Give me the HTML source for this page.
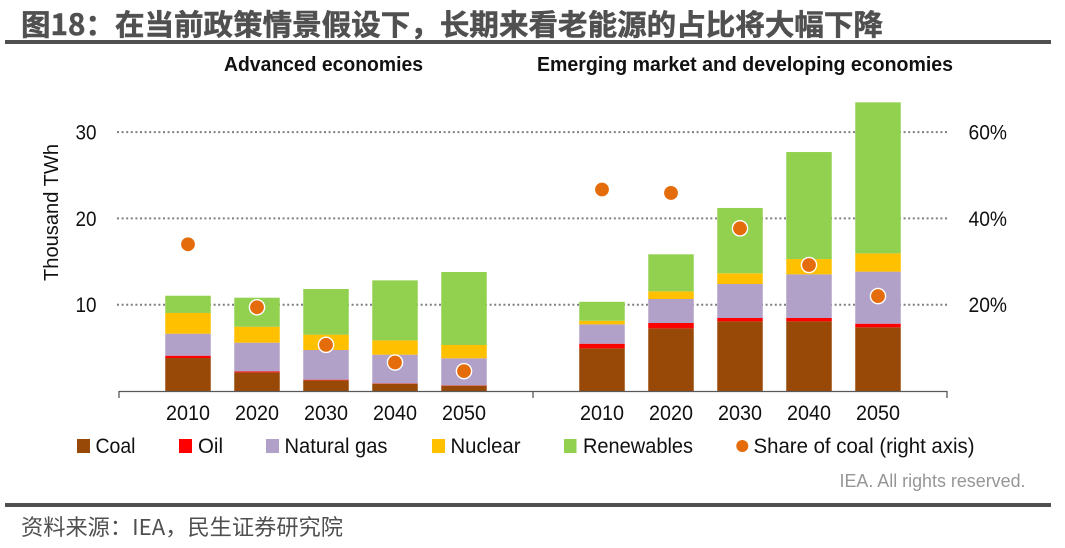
<!DOCTYPE html>
<html lang="zh">
<head>
<meta charset="utf-8">
<title>图18</title>
<style>
html,body{margin:0;padding:0;background:#fff;width:1065px;height:548px;overflow:hidden}
svg{display:block}
text{font-family:"Liberation Sans","Noto Sans CJK SC",sans-serif;fill:#111}
.cjk{font-family:"Noto Sans CJK SC","Liberation Sans",sans-serif}
</style>
</head>
<body>
<svg id="chart" xmlns="http://www.w3.org/2000/svg" width="1065" height="548" viewBox="0 0 1065 548">
  <rect width="1065" height="548" fill="#fff"/>
  <text class="cjk" x="21" y="35" font-size="29" font-weight="700" style="fill:#505050;stroke:#505050;stroke-width:0.5" textLength="862" lengthAdjust="spacingAndGlyphs">图18：在当前政策情景假设下，长期来看老能源的占比将大幅下降</text>
  <rect x="5" y="40" width="1046" height="4" fill="#505050"/>
  <text x="224" y="71" font-size="20" font-weight="700" textLength="199" lengthAdjust="spacingAndGlyphs">Advanced economies</text>
  <text x="537" y="71" font-size="20" font-weight="700" textLength="416" lengthAdjust="spacingAndGlyphs">Emerging market and developing economies</text>
  <text transform="translate(58,281) rotate(-90)" font-size="20" textLength="137" lengthAdjust="spacingAndGlyphs">Thousand TWh</text>
  <g id="grid"></g>
  <g id="bars"></g>
  <g id="axis"></g>
  <g id="points"></g>
  <g>
    <rect x="77" y="439" width="13" height="14" fill="#984807"/>
    <text x="95.5" y="453" font-size="21" textLength="40" lengthAdjust="spacingAndGlyphs">Coal</text>
    <rect x="179" y="439" width="13" height="14" fill="#ff0000"/>
    <text x="198" y="453" font-size="21" textLength="25" lengthAdjust="spacingAndGlyphs">Oil</text>
    <rect x="266" y="439" width="13" height="14" fill="#b1a0c7"/>
    <text x="284.5" y="453" font-size="21" textLength="103" lengthAdjust="spacingAndGlyphs">Natural gas</text>
    <rect x="432" y="439" width="13" height="14" fill="#ffc000"/>
    <text x="450.5" y="453" font-size="21" textLength="70" lengthAdjust="spacingAndGlyphs">Nuclear</text>
    <rect x="564" y="439" width="12.5" height="14" fill="#92d050"/>
    <text x="583" y="453" font-size="21" textLength="110" lengthAdjust="spacingAndGlyphs">Renewables</text>
    <circle cx="742.3" cy="446" r="6" fill="#e46c0a"/>
    <text x="753.5" y="453" font-size="21" textLength="221" lengthAdjust="spacingAndGlyphs">Share of coal (right axis)</text>
  </g>
  <text x="839.5" y="487" font-size="18" style="fill:#969696" textLength="186" lengthAdjust="spacingAndGlyphs">IEA. All rights reserved.</text>
  <rect x="5" y="503" width="1046" height="4" fill="#505050"/>
  <text class="cjk" x="21" y="535" font-size="22" style="fill:#505050" textLength="322" lengthAdjust="spacingAndGlyphs">资料来源：IEA，民生证券研究院</text>
</svg>
<script>
const years = ['2010', '2020', '2030', '2040', '2050'];
const leftTicks = [10, 20, 30];
const rightTickLabels = ['20%', '40%', '60%'];
const advCoal = [3.82, 2.16, 1.24, 0.85, 0.62];
const advOil = [0.27, 0.12, 0.07, 0.04, 0.04];
const advGas = [2.55, 3.32, 3.44, 3.32, 3.13];
const advNuclear = [2.40, 1.85, 1.78, 1.66, 1.54];
const advRenewables = [2.00, 3.36, 5.29, 6.95, 8.46];
const advShare = [34.0, 19.4, 10.7, 6.6, 4.6];
const emCoal = [4.94, 7.26, 8.07, 8.07, 7.38];
const emOil = [0.54, 0.62, 0.39, 0.39, 0.42];
const emGas = [2.24, 2.78, 3.94, 5.06, 6.03];
const emNuclear = [0.42, 0.89, 1.24, 1.77, 2.12];
const emRenewables = [2.20, 4.29, 7.57, 12.40, 17.50];
const emShare = [46.7, 45.9, 37.7, 29.2, 22.0];

const NS = 'http://www.w3.org/2000/svg';
const yBase = 391, unit = 8.63;
const yLeft = v => yBase - v * unit;
const yRight = s => yBase - s * unit / 2;
const xAdv = i => 188 + 69 * i;
const xEm = i => 602 + 69 * i;
const barW = 45.5;
const colors = ['#984807', '#ff0000', '#b1a0c7', '#ffc000', '#92d050'];
const seriesNames = ['coal', 'oil', 'natural-gas', 'nuclear', 'renewables'];

function mk(tag, parent, attrs) {
  const el = document.createElementNS(NS, tag);
  for (const k in attrs) el.setAttribute(k, attrs[k]);
  parent.appendChild(el);
  return el;
}
const gridG = document.getElementById('grid');
const barsG = document.getElementById('bars');
const axisG = document.getElementById('axis');
const pointsG = document.getElementById('points');

leftTicks.forEach((t, i) => {
  const y = yLeft(t);
  const line = mk('line', gridG, {x1: 117, x2: 947, y1: y, y2: y, stroke: '#7f7f7f', 'stroke-width': 2, 'stroke-dasharray': '2 2.6'});
  
  
  const l = mk('text', axisG, {x: 75.5, y: y + 7.5, 'font-size': 21, textLength: 21, lengthAdjust: 'spacingAndGlyphs'});
  l.textContent = t;
  
  
  const r = mk('text', axisG, {x: 968.5, y: y + 7.5, 'font-size': 21, textLength: 38.5, lengthAdjust: 'spacingAndGlyphs'});
  r.textContent = rightTickLabels[i];
  
  
});

function drawPanel(xf, stacks, share, panel) {
  years.forEach((yr, i) => {
    let cum = 0;
    stacks.forEach((s, k) => {
      const y1 = yLeft(cum + s[i]);
      const y0 = yLeft(cum);
      const bar = mk('rect', barsG, {x: xf(i) - barW / 2, y: y1, width: barW, height: y0 - y1, fill: colors[k]});
      
      
      cum += s[i];
    });
    const lab = mk('text', axisG, {x: xf(i) - 22, y: 420, 'font-size': 21, textLength: 44, lengthAdjust: 'spacingAndGlyphs'});
    lab.textContent = yr;
    
    
    const dot = mk('circle', pointsG, {cx: xf(i), cy: yRight(share[i]), r: 7.6, fill: '#e46c0a', stroke: '#fff', 'stroke-width': 1.4});
    
    
  });
}
drawPanel(xAdv, [advCoal, advOil, advGas, advNuclear, advRenewables], advShare, 'advanced');
drawPanel(xEm, [emCoal, emOil, emGas, emNuclear, emRenewables], emShare, 'emerging');

const baseline = mk('path', axisG, {d: 'M119 398V391.5H947V398M533 391.5V398', fill: 'none', stroke: '#595959', 'stroke-width': 1.3});


</script>
</body>
</html>
